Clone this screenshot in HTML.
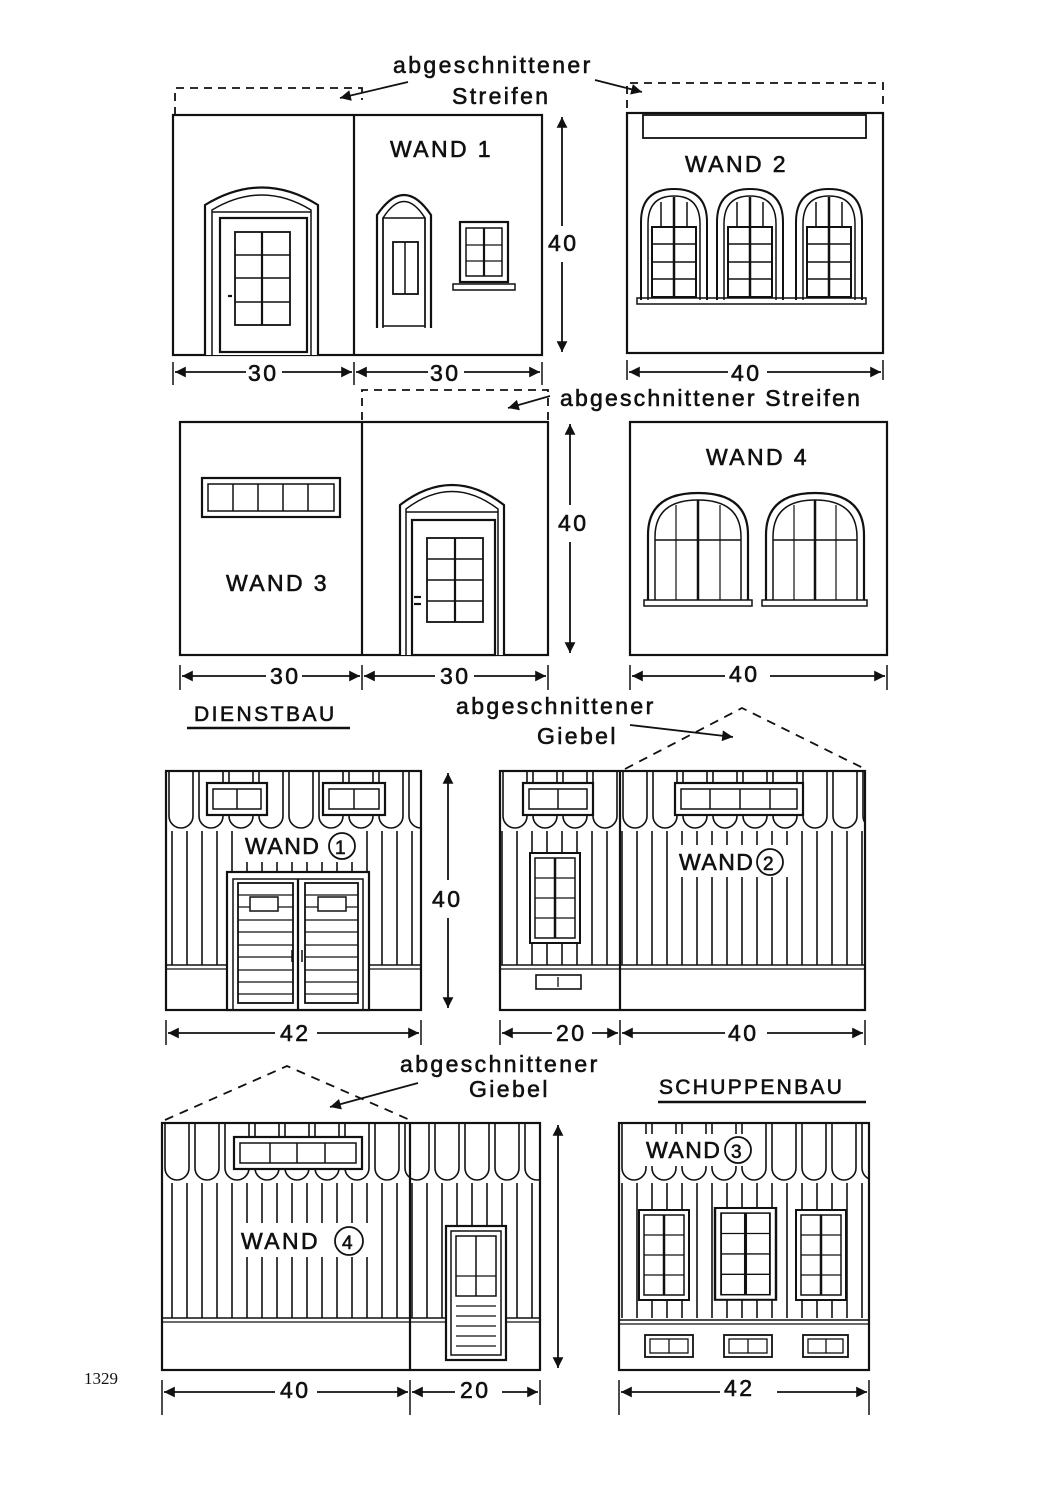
<!DOCTYPE html>
<html><head><meta charset="utf-8"><style>
html,body{margin:0;padding:0;background:#fff;}
svg{display:block;}
text{font-family:"Liberation Sans",sans-serif;fill:#111;}
</style></head><body>
<svg width="1057" height="1500" viewBox="0 0 1057 1500" xmlns="http://www.w3.org/2000/svg">
<defs>
<marker id="ar" viewBox="0 0 10 10" refX="10" refY="5" markerWidth="9" markerHeight="6" orient="auto-start-reverse"><path d="M0,0 L10,5 L0,10 Z" fill="#111"/></marker>
<pattern id="bd" patternUnits="userSpaceOnUse" width="15" height="10"><line x1="7" y1="0" x2="7" y2="10" stroke="#111" stroke-width="1.6"/></pattern>
<pattern id="sc1" patternUnits="userSpaceOnUse" x="166" y="771" width="30" height="60"><path d="M3,0 V45 A12,12 0 0 0 27,45 V0" fill="none" stroke="#111" stroke-width="1.6"/></pattern>
<pattern id="sc2" patternUnits="userSpaceOnUse" x="500" y="771" width="30" height="60"><path d="M3,0 V45 A12,12 0 0 0 27,45 V0" fill="none" stroke="#111" stroke-width="1.6"/></pattern>
<pattern id="sc4" patternUnits="userSpaceOnUse" x="162" y="1123" width="30" height="60"><path d="M3,0 V45 A12,12 0 0 0 27,45 V0" fill="none" stroke="#111" stroke-width="1.6"/></pattern>
<pattern id="sc3" patternUnits="userSpaceOnUse" x="619" y="1123" width="30" height="60"><path d="M3,0 V45 A12,12 0 0 0 27,45 V0" fill="none" stroke="#111" stroke-width="1.6"/></pattern>
<g id="aw">
<path d="M0,113 V35 Q0,2 33,2 Q66,2 66,35 V113" fill="#fff" stroke="#111" stroke-width="2"/>
<path d="M7,113 V37 Q7,9 33,9 Q59,9 59,37 V113" fill="none" stroke="#111" stroke-width="1.5"/>
<rect x="11" y="40" width="44" height="70" fill="none" stroke="#111" stroke-width="2"/>
<line x1="33" y1="10" x2="33" y2="110" stroke="#111" stroke-width="2.5"/>
<line x1="11" y1="57" x2="55" y2="57" stroke="#111" stroke-width="1.5"/>
<line x1="11" y1="75" x2="55" y2="75" stroke="#111" stroke-width="1.5"/>
<line x1="11" y1="92" x2="55" y2="92" stroke="#111" stroke-width="1.5"/>
<line x1="20" y1="15" x2="20" y2="40" stroke="#111" stroke-width="1.5"/>
<line x1="46" y1="15" x2="46" y2="40" stroke="#111" stroke-width="1.5"/>
</g>
<g id="rw">
<rect x="0" y="0" width="50" height="90" fill="#fff" stroke="#111" stroke-width="2"/>
<rect x="5" y="5" width="40" height="80" fill="none" stroke="#111" stroke-width="1.5"/>
<line x1="25" y1="5" x2="25" y2="85" stroke="#111" stroke-width="2.5"/>
<line x1="5" y1="25" x2="45" y2="25" stroke="#111" stroke-width="1.3"/>
<line x1="5" y1="45" x2="45" y2="45" stroke="#111" stroke-width="1.3"/>
<line x1="5" y1="65" x2="45" y2="65" stroke="#111" stroke-width="1.3"/>
</g>
</defs>

<g fill="none" stroke="#111" stroke-width="2.2">
<rect x="173" y="115" width="369" height="240"/>
<line x1="354" y1="115" x2="354" y2="355"/>
<rect x="627" y="113" width="256" height="240"/>
<rect x="643" y="115" width="223" height="23" stroke-width="1.8"/>
<g stroke-dasharray="8,6" stroke-width="1.8">
<path d="M175,115 V88 H362 V100"/>
<path d="M627,108 V83 H883 V108"/>
<path d="M362,420 V390 H548 V420"/>
</g>
<path d="M205,355 V205 Q262,170 318,205 V355" fill="#fff"/>
<path d="M212,355 V210 Q262,180 311,210 V355" stroke-width="1.5"/>
<rect x="220" y="218" width="87" height="134"/>
<rect x="235" y="232" width="55" height="93" stroke-width="1.8"/>
<line x1="262" y1="232" x2="262" y2="325"/>
<line x1="235" y1="255" x2="290" y2="255" stroke-width="1.5"/><line x1="235" y1="278" x2="290" y2="278" stroke-width="1.5"/><line x1="235" y1="302" x2="290" y2="302" stroke-width="1.5"/>
<line x1="212" y1="212" x2="311" y2="212" stroke-width="1.5"/>
<line x1="228" y1="296" x2="232" y2="296"/>
<path d="M377,328 V215 Q404,175 431,215 V328"/>
<path d="M383,328 V218 Q404,185 425,218 V328" stroke-width="1.5"/>
<rect x="383" y="218" width="42" height="108" stroke-width="1.5"/>
<rect x="393" y="242" width="25" height="52" stroke-width="1.8"/>
<line x1="405" y1="242" x2="405" y2="294" stroke-width="1.5"/>
<rect x="460" y="222" width="48" height="60"/>
<rect x="466" y="228" width="36" height="48" stroke-width="1.5"/>
<line x1="484" y1="228" x2="484" y2="276"/>
<line x1="466" y1="245" x2="502" y2="245" stroke-width="1.3"/><line x1="466" y1="261" x2="502" y2="261" stroke-width="1.3"/>
<rect x="453" y="284" width="62" height="6" stroke-width="1.5"/>
<use href="#aw" x="641" y="187"/>
<use href="#aw" x="717" y="187"/>
<use href="#aw" x="796" y="187"/>
<rect x="637" y="298" width="229" height="6" stroke-width="1.5"/>

<rect x="180" y="422" width="368" height="233"/>
<line x1="362" y1="422" x2="362" y2="655"/>
<rect x="630" y="422" width="257" height="233"/>
<rect x="202" y="478" width="138" height="39"/>
<rect x="208" y="484" width="126" height="27" stroke-width="1.5"/>
<line x1="233" y1="484" x2="233" y2="511" stroke-width="1.5"/><line x1="258" y1="484" x2="258" y2="511" stroke-width="1.5"/><line x1="283" y1="484" x2="283" y2="511" stroke-width="1.5"/><line x1="308" y1="484" x2="308" y2="511" stroke-width="1.5"/>
<path d="M400,655 V505 Q452,465 504,505 V655" fill="#fff"/>
<path d="M406,655 V509 Q452,474 498,509 V655" stroke-width="1.5"/>
<line x1="406" y1="512" x2="498" y2="512" stroke-width="1.5"/>
<rect x="412" y="520" width="83" height="135"/>
<rect x="427" y="538" width="56" height="84" stroke-width="1.8"/>
<line x1="455" y1="538" x2="455" y2="622"/>
<line x1="427" y1="559" x2="483" y2="559" stroke-width="1.4"/><line x1="427" y1="580" x2="483" y2="580" stroke-width="1.4"/><line x1="427" y1="601" x2="483" y2="601" stroke-width="1.4"/>
<line x1="414" y1="597" x2="421" y2="597"/><line x1="414" y1="604" x2="421" y2="604"/>
<path d="M648,600 V535 Q648,493 698,493 Q748,493 748,535 V600" fill="#fff"/>
<path d="M655,600 V537 Q655,500 698,500 Q741,500 741,537 V600" stroke-width="1.5"/>
<line x1="698" y1="500" x2="698" y2="600" stroke-width="2.5"/><line x1="655" y1="540" x2="741" y2="540" stroke-width="1.5"/>
<line x1="676" y1="505" x2="676" y2="600" stroke-width="1.2"/><line x1="720" y1="505" x2="720" y2="600" stroke-width="1.2"/>
<rect x="644" y="600" width="108" height="6" stroke-width="1.5"/>
<path d="M766,600 V535 Q766,493 815,493 Q864,493 864,535 V600" fill="#fff"/>
<path d="M773,600 V537 Q773,500 815,500 Q857,500 857,537 V600" stroke-width="1.5"/>
<line x1="815" y1="500" x2="815" y2="600" stroke-width="2.5"/><line x1="773" y1="540" x2="857" y2="540" stroke-width="1.5"/>
<line x1="794" y1="505" x2="794" y2="600" stroke-width="1.2"/><line x1="836" y1="505" x2="836" y2="600" stroke-width="1.2"/>
<rect x="762" y="600" width="105" height="6" stroke-width="1.5"/>
</g>

<g stroke="none">
<rect x="166" y="771" width="255" height="60" fill="url(#sc1)"/>
<rect x="166" y="831" width="255" height="134" fill="url(#bd)"/>
<rect x="500" y="771" width="365" height="60" fill="url(#sc2)"/>
<rect x="500" y="831" width="365" height="134" fill="url(#bd)"/>
<rect x="162" y="1123" width="378" height="60" fill="url(#sc4)"/>
<rect x="162" y="1183" width="378" height="135" fill="url(#bd)"/>
<rect x="619" y="1123" width="250" height="60" fill="url(#sc3)"/>
<rect x="619" y="1183" width="250" height="135" fill="url(#bd)"/>
</g>
<g fill="none" stroke="#111" stroke-width="2.2">
<rect x="166" y="771" width="255" height="239"/>
<line x1="166" y1="965" x2="421" y2="965" stroke-width="1.6"/><line x1="166" y1="969" x2="421" y2="969" stroke-width="1.2"/>
<rect x="500" y="771" width="365" height="239"/>
<line x1="620" y1="771" x2="620" y2="1010"/>
<line x1="500" y1="965" x2="865" y2="965" stroke-width="1.6"/><line x1="500" y1="969" x2="865" y2="969" stroke-width="1.2"/>
<g stroke-dasharray="9,7" stroke-width="1.8"><path d="M625,769 L742,708 L865,769"/><path d="M165,1120 L287,1066 L410,1120"/></g>
<rect x="207" y="783" width="60" height="32" fill="#fff"/><rect x="213" y="789" width="48" height="20" stroke-width="1.5"/><line x1="237" y1="789" x2="237" y2="809" stroke-width="1.5"/>
<rect x="323" y="783" width="62" height="32" fill="#fff"/><rect x="329" y="789" width="50" height="20" stroke-width="1.5"/><line x1="354" y1="789" x2="354" y2="809" stroke-width="1.5"/>
<rect x="227" y="872" width="142" height="138" fill="#fff"/>
<rect x="233" y="879" width="130" height="131" stroke-width="1.5"/>
<line x1="298" y1="879" x2="298" y2="1010"/>
<rect x="238" y="883" width="55" height="120" stroke-width="1.8"/><rect x="305" y="883" width="53" height="120" stroke-width="1.8"/>
<g stroke-width="1.3">
<path d="M238,895H293M238,907H293M238,920H293M238,932H293M238,945H293M238,957H293M238,970H293M238,982H293M238,994H293"/>
<path d="M305,895H358M305,907H358M305,920H358M305,932H358M305,945H358M305,957H358M305,970H358M305,982H358M305,994H358"/>
</g>
<rect x="250" y="897" width="28" height="14" fill="#fff" stroke-width="1.5"/><rect x="318" y="897" width="28" height="14" fill="#fff" stroke-width="1.5"/>
<line x1="292" y1="950" x2="292" y2="962" stroke-width="1.5"/><line x1="302" y1="950" x2="302" y2="962" stroke-width="1.5"/>
<rect x="523" y="783" width="70" height="32" fill="#fff"/><rect x="529" y="789" width="58" height="20" stroke-width="1.5"/><line x1="558" y1="789" x2="558" y2="809" stroke-width="1.5"/>
<rect x="675" y="783" width="128" height="32" fill="#fff"/><rect x="681" y="789" width="116" height="20" stroke-width="1.5"/>
<path d="M710,789V809M740,789V809M770,789V809" stroke-width="1.5"/>
<use href="#rw" x="530" y="853"/>
<rect x="536" y="975" width="45" height="14" stroke-width="1.6"/>
<line x1="558" y1="977" x2="558" y2="987" stroke-width="1.3"/>

<rect x="162" y="1123" width="378" height="247"/>
<line x1="410" y1="1123" x2="410" y2="1370"/>
<line x1="162" y1="1318" x2="540" y2="1318" stroke-width="1.6"/><line x1="162" y1="1322" x2="540" y2="1322" stroke-width="1.2"/>
<rect x="234" y="1137" width="128" height="32" fill="#fff"/><rect x="240" y="1143" width="116" height="20" stroke-width="1.5"/>
<path d="M270,1143V1163M297,1143V1163M325,1143V1163" stroke-width="1.5"/>
<rect x="446" y="1226" width="60" height="134" fill="#fff"/>
<rect x="451" y="1231" width="50" height="124" stroke-width="1.5"/>
<rect x="456" y="1236" width="40" height="60" stroke-width="1.5"/>
<line x1="476" y1="1236" x2="476" y2="1296" stroke-width="1.5"/><line x1="456" y1="1276" x2="496" y2="1276" stroke-width="1.2"/>
<path d="M456,1306H496M456,1316H496M456,1326H496M456,1336H496M456,1346H496" stroke-width="1.3"/>
<rect x="619" y="1123" width="250" height="247"/>
<line x1="619" y1="1320" x2="869" y2="1320" stroke-width="1.6"/><line x1="619" y1="1324" x2="869" y2="1324" stroke-width="1.2"/>
<use href="#rw" x="639" y="1210"/>
<g transform="translate(715,1208) scale(1.22,1.02)"><use href="#rw"/></g>
<use href="#rw" x="796" y="1210"/>
<rect x="645" y="1335" width="48" height="22" stroke-width="1.8"/><rect x="650" y="1339" width="38" height="14" stroke-width="1.3"/><line x1="669" y1="1339" x2="669" y2="1353" stroke-width="1.3"/>
<rect x="724" y="1335" width="48" height="22" stroke-width="1.8"/><rect x="729" y="1339" width="38" height="14" stroke-width="1.3"/><line x1="748" y1="1339" x2="748" y2="1353" stroke-width="1.3"/>
<rect x="803" y="1335" width="45" height="22" stroke-width="1.8"/><rect x="808" y="1339" width="35" height="14" stroke-width="1.3"/><line x1="826" y1="1339" x2="826" y2="1353" stroke-width="1.3"/>
</g>

<g fill="#fff" stroke="none">
<rect x="243" y="830" width="118" height="32"/>
<rect x="676" y="845" width="118" height="32"/>
<rect x="238" y="1223" width="130" height="34"/>
<rect x="643" y="1134" width="116" height="32"/>
</g>

<g stroke="#111" stroke-width="1.8" fill="none">
<path d="M173,362V385M354,362V385M542,362V385M627,360V380M883,360V380" stroke-width="1.5"/>
<line x1="175" y1="372" x2="246" y2="372" marker-start="url(#ar)"/><line x1="282" y1="372" x2="352" y2="372" marker-end="url(#ar)"/>
<line x1="356" y1="372" x2="428" y2="372" marker-start="url(#ar)"/><line x1="464" y1="372" x2="540" y2="372" marker-end="url(#ar)"/>
<line x1="629" y1="372" x2="728" y2="372" marker-start="url(#ar)"/><line x1="767" y1="372" x2="881" y2="372" marker-end="url(#ar)"/>
<line x1="562" y1="117" x2="562" y2="226" marker-start="url(#ar)"/><line x1="562" y1="262" x2="562" y2="352" marker-end="url(#ar)"/>
<path d="M180,665V690M362,665V690M548,665V690M630,665V690M887,665V690" stroke-width="1.5"/>
<line x1="182" y1="676" x2="266" y2="676" marker-start="url(#ar)"/><line x1="302" y1="676" x2="360" y2="676" marker-end="url(#ar)"/>
<line x1="364" y1="676" x2="435" y2="676" marker-start="url(#ar)"/><line x1="474" y1="676" x2="546" y2="676" marker-end="url(#ar)"/>
<line x1="632" y1="676" x2="725" y2="676" marker-start="url(#ar)"/><line x1="770" y1="676" x2="885" y2="676" marker-end="url(#ar)"/>
<line x1="570" y1="424" x2="570" y2="505" marker-start="url(#ar)"/><line x1="570" y1="542" x2="570" y2="653" marker-end="url(#ar)"/>
<path d="M166,1020V1045M421,1020V1045M500,1020V1045M620,1020V1045M865,1020V1045" stroke-width="1.5"/>
<line x1="168" y1="1033" x2="275" y2="1033" marker-start="url(#ar)"/><line x1="317" y1="1033" x2="419" y2="1033" marker-end="url(#ar)"/>
<line x1="502" y1="1033" x2="552" y2="1033" marker-start="url(#ar)"/><line x1="592" y1="1033" x2="618" y2="1033" marker-end="url(#ar)"/>
<line x1="622" y1="1033" x2="725" y2="1033" marker-start="url(#ar)"/><line x1="767" y1="1033" x2="863" y2="1033" marker-end="url(#ar)"/>
<line x1="448" y1="773" x2="448" y2="880" marker-start="url(#ar)"/><line x1="448" y1="918" x2="448" y2="1008" marker-end="url(#ar)"/>
<path d="M162,1380V1415M410,1380V1415M540,1380V1405M619,1380V1415M869,1380V1415" stroke-width="1.5"/>
<line x1="164" y1="1392" x2="275" y2="1392" marker-start="url(#ar)"/><line x1="317" y1="1392" x2="408" y2="1392" marker-end="url(#ar)"/>
<line x1="412" y1="1392" x2="455" y2="1392" marker-start="url(#ar)"/><line x1="502" y1="1392" x2="538" y2="1392" marker-end="url(#ar)"/>
<line x1="621" y1="1392" x2="720" y2="1392" marker-start="url(#ar)"/><line x1="777" y1="1392" x2="867" y2="1392" marker-end="url(#ar)"/>
<line x1="558" y1="1125" x2="558" y2="1368" marker-start="url(#ar)" marker-end="url(#ar)"/>
<line x1="408" y1="82" x2="340" y2="98" marker-end="url(#ar)"/>
<line x1="595" y1="80" x2="642" y2="92" marker-end="url(#ar)"/>
<line x1="550" y1="396" x2="508" y2="408" marker-end="url(#ar)"/>
<line x1="630" y1="725" x2="733" y2="737" marker-end="url(#ar)"/>
<line x1="418" y1="1083" x2="330" y2="1107" marker-end="url(#ar)"/>
<line x1="187" y1="728" x2="350" y2="728" stroke-width="2.5"/>
<line x1="658" y1="1102" x2="866" y2="1102" stroke-width="2.5"/>
<circle cx="342" cy="846" r="13"/><circle cx="770" cy="862" r="13"/><circle cx="349" cy="1241" r="14"/><circle cx="738" cy="1150" r="13"/>
</g>

<g font-size="23" letter-spacing="2.4" stroke="#111" stroke-width="0.6">
<text x="393" y="73">abgeschnittener</text>
<text x="452" y="104">Streifen</text>
<text x="390" y="157">WAND 1</text>
<text x="685" y="172">WAND 2</text>
<text x="548" y="251">40</text>
<text x="248" y="381">30</text>
<text x="430" y="381">30</text>
<text x="731" y="381">40</text>
<text x="560" y="406" letter-spacing="2.2">abgeschnittener Streifen</text>
<text x="706" y="465">WAND 4</text>
<text x="226" y="591">WAND 3</text>
<text x="558" y="531">40</text>
<text x="270" y="684">30</text>
<text x="440" y="684">30</text>
<text x="729" y="682">40</text>
<text x="194" y="721" font-size="21" letter-spacing="2.5">DIENSTBAU</text>
<text x="456" y="714">abgeschnittener</text>
<text x="537" y="744">Giebel</text>
<text x="245" y="854" letter-spacing="1.5">WAND</text><text x="335" y="854" font-size="19">1</text>
<text x="679" y="870" letter-spacing="1.5">WAND</text><text x="763" y="870" font-size="19">2</text>
<text x="432" y="907">40</text>
<text x="280" y="1041">42</text>
<text x="556" y="1041">20</text>
<text x="728" y="1041">40</text>
<text x="400" y="1072">abgeschnittener</text>
<text x="469" y="1097">Giebel</text>
<text x="659" y="1094" font-size="21" letter-spacing="2.3">SCHUPPENBAU</text>
<text x="646" y="1158" letter-spacing="1.5">WAND</text><text x="731" y="1158" font-size="19">3</text>
<text x="241" y="1249">WAND</text><text x="342" y="1249" font-size="19">4</text>
<text x="280" y="1398">40</text>
<text x="460" y="1398">20</text>
<text x="724" y="1396">42</text>
</g>
<text x="84" y="1384" font-size="17" style="font-family:'Liberation Serif',serif">1329</text>
</svg>
</body></html>
